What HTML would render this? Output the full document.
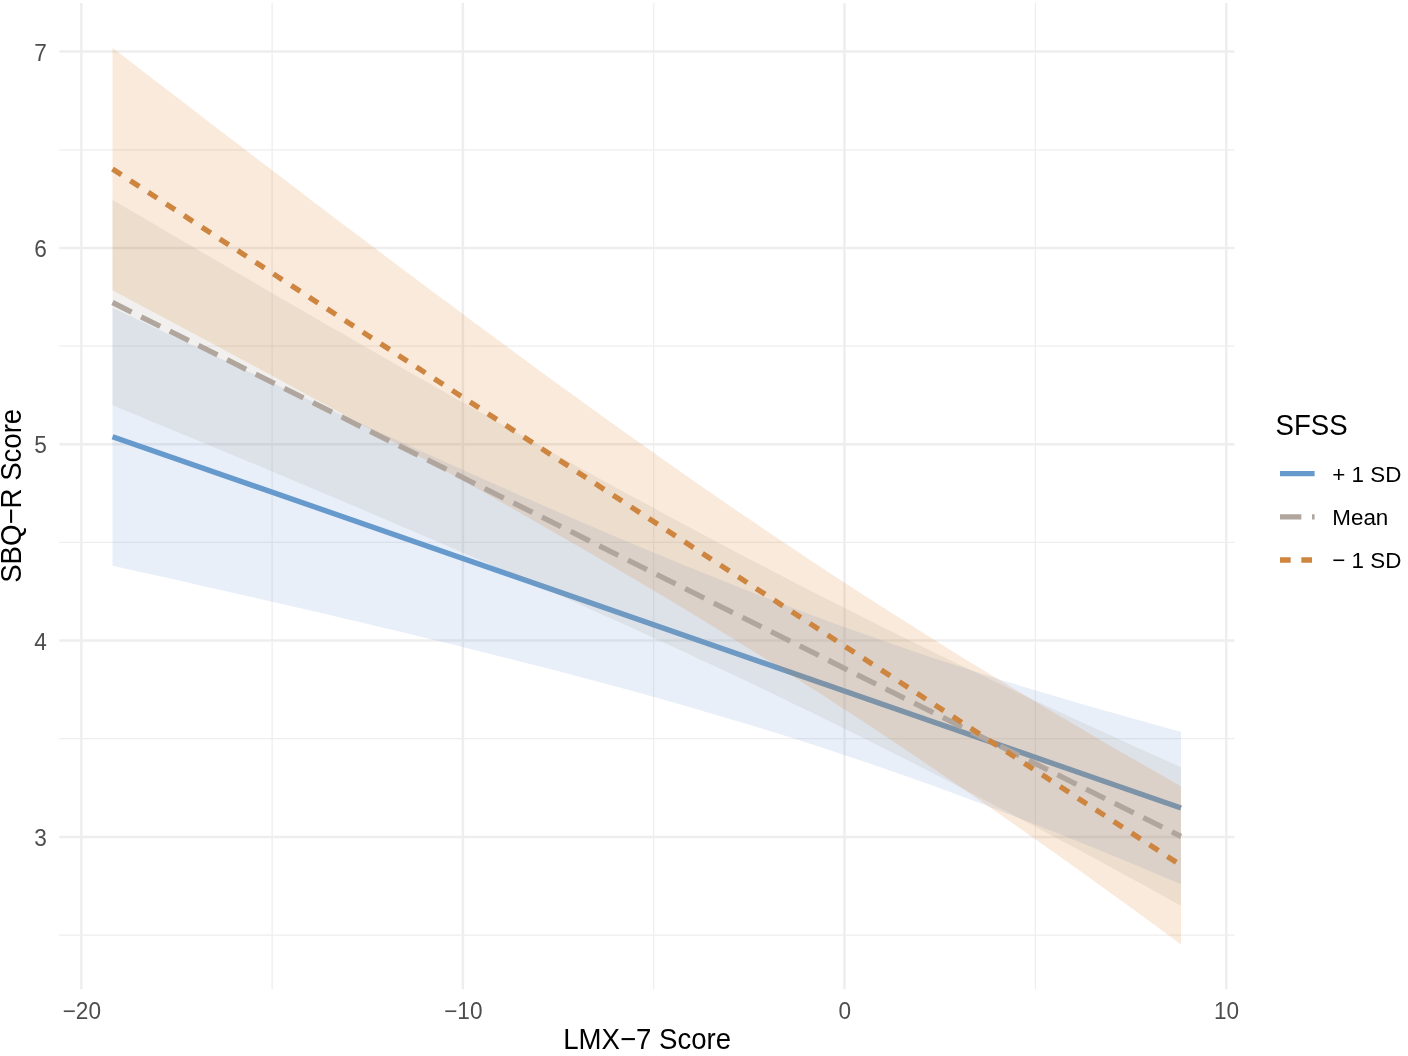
<!DOCTYPE html>
<html lang="en"><head><meta charset="utf-8"><title>SBQ-R Score by LMX-7 Score and SFSS</title>
<style>html,body{margin:0;padding:0;background:#fff;}body{width:1408px;height:1056px;overflow:hidden;}svg{display:block;}.t{font-family:"Liberation Sans",sans-serif;}</style></head>
<body>
<svg width="1408" height="1056" viewBox="0 0 1408 1056">
<rect width="1408" height="1056" fill="#ffffff"/>
<g stroke="#EEEEEE" fill="none">
<line x1="59.3" x2="1234.4" y1="149.8" y2="149.8" stroke-width="1.25"/>
<line x1="59.3" x2="1234.4" y1="346.1" y2="346.1" stroke-width="1.25"/>
<line x1="59.3" x2="1234.4" y1="542.4" y2="542.4" stroke-width="1.25"/>
<line x1="59.3" x2="1234.4" y1="738.7" y2="738.7" stroke-width="1.25"/>
<line x1="59.3" x2="1234.4" y1="935.1" y2="935.1" stroke-width="1.25"/>
<line x1="272.1" x2="272.1" y1="3.0" y2="989.2" stroke-width="1.25"/>
<line x1="653.7" x2="653.7" y1="3.0" y2="989.2" stroke-width="1.25"/>
<line x1="1035.4" x2="1035.4" y1="3.0" y2="989.2" stroke-width="1.25"/>
<line x1="59.3" x2="1234.4" y1="51.6" y2="51.6" stroke-width="2.50"/>
<line x1="59.3" x2="1234.4" y1="247.9" y2="247.9" stroke-width="2.50"/>
<line x1="59.3" x2="1234.4" y1="444.3" y2="444.3" stroke-width="2.50"/>
<line x1="59.3" x2="1234.4" y1="640.6" y2="640.6" stroke-width="2.50"/>
<line x1="59.3" x2="1234.4" y1="836.9" y2="836.9" stroke-width="2.50"/>
<line x1="81.4" x2="81.4" y1="3.0" y2="989.2" stroke-width="2.50"/>
<line x1="462.9" x2="462.9" y1="3.0" y2="989.2" stroke-width="2.50"/>
<line x1="844.5" x2="844.5" y1="3.0" y2="989.2" stroke-width="2.50"/>
<line x1="1226.2" x2="1226.2" y1="3.0" y2="989.2" stroke-width="2.50"/>
</g>
<path d="M112.5 307.7 L130.3 316.1 L148.1 324.5 L165.9 332.9 L183.7 341.3 L201.5 349.6 L219.3 358.0 L237.2 366.3 L255.0 374.6 L272.8 382.9 L290.6 391.2 L308.4 399.4 L326.2 407.7 L344.0 415.9 L361.8 424.0 L379.6 432.2 L397.4 440.3 L415.2 448.4 L433.1 456.5 L450.9 464.5 L468.7 472.5 L486.5 480.4 L504.3 488.3 L522.1 496.2 L539.9 504.0 L557.7 511.7 L575.5 519.4 L593.3 527.1 L611.1 534.7 L628.9 542.2 L646.8 549.7 L664.6 557.1 L682.4 564.4 L700.2 571.6 L718.0 578.8 L735.8 585.9 L753.6 592.9 L771.4 599.8 L789.2 606.6 L807.0 613.3 L824.8 619.9 L842.6 626.4 L860.5 632.8 L878.3 639.1 L896.1 645.3 L913.9 651.4 L931.7 657.4 L949.5 663.3 L967.3 669.1 L985.1 674.8 L1002.9 680.4 L1020.7 685.9 L1038.5 691.3 L1056.3 696.6 L1074.2 701.8 L1092.0 707.0 L1109.8 712.1 L1127.6 717.1 L1145.4 722.0 L1163.2 726.9 L1181.0 731.7 L1181.0 884.3 L1163.2 876.8 L1145.4 869.3 L1127.6 861.8 L1109.8 854.4 L1092.0 847.1 L1074.2 839.9 L1056.3 832.8 L1038.5 825.7 L1020.7 818.7 L1002.9 811.9 L985.1 805.1 L967.3 798.4 L949.5 791.8 L931.7 785.3 L913.9 778.9 L896.1 772.7 L878.3 766.5 L860.5 760.4 L842.6 754.4 L824.8 748.6 L807.0 742.8 L789.2 737.1 L771.4 731.6 L753.6 726.1 L735.8 720.7 L718.0 715.4 L700.2 710.2 L682.4 705.1 L664.6 700.0 L646.8 695.0 L628.9 690.1 L611.1 685.3 L593.3 680.5 L575.5 675.7 L557.7 671.1 L539.9 666.5 L522.1 661.9 L504.3 657.4 L486.5 652.9 L468.7 648.5 L450.9 644.1 L433.1 639.7 L415.2 635.4 L397.4 631.1 L379.6 626.9 L361.8 622.6 L344.0 618.4 L326.2 614.3 L308.4 610.1 L290.6 606.0 L272.8 601.9 L255.0 597.8 L237.2 593.7 L219.3 589.7 L201.5 585.7 L183.7 581.6 L165.9 577.6 L148.1 573.7 L130.3 569.7 L112.5 565.7Z" fill="rgb(102,148,215)" fill-opacity="0.15" stroke="none"/>
<line x1="112.5" y1="436.7" x2="1181.0" y2="808.0" stroke="#6699CC" stroke-width="5.33"/>
<path d="M112.5 199.7 L130.3 210.2 L148.1 220.6 L165.9 231.1 L183.7 241.5 L201.5 251.9 L219.3 262.3 L237.2 272.7 L255.0 283.1 L272.8 293.4 L290.6 303.8 L308.4 314.1 L326.2 324.4 L344.0 334.6 L361.8 344.9 L379.6 355.1 L397.4 365.3 L415.2 375.4 L433.1 385.6 L450.9 395.7 L468.7 405.7 L486.5 415.8 L504.3 425.8 L522.1 435.7 L539.9 445.7 L557.7 455.6 L575.5 465.4 L593.3 475.2 L611.1 485.0 L628.9 494.7 L646.8 504.3 L664.6 513.9 L682.4 523.5 L700.2 533.0 L718.0 542.5 L735.8 551.9 L753.6 561.2 L771.4 570.5 L789.2 579.7 L807.0 588.9 L824.8 598.0 L842.6 607.0 L860.5 616.0 L878.3 624.9 L896.1 633.7 L913.9 642.5 L931.7 651.2 L949.5 659.9 L967.3 668.5 L985.1 677.0 L1002.9 685.5 L1020.7 693.9 L1038.5 702.2 L1056.3 710.5 L1074.2 718.8 L1092.0 727.0 L1109.8 735.1 L1127.6 743.2 L1145.4 751.3 L1163.2 759.3 L1181.0 767.3 L1181.0 905.7 L1163.2 895.9 L1145.4 886.1 L1127.6 876.4 L1109.8 866.7 L1092.0 857.0 L1074.2 847.4 L1056.3 837.9 L1038.5 828.4 L1020.7 818.9 L1002.9 809.5 L985.1 800.2 L967.3 790.9 L949.5 781.7 L931.7 772.6 L913.9 763.5 L896.1 754.5 L878.3 745.5 L860.5 736.6 L842.6 727.8 L824.8 719.0 L807.0 710.3 L789.2 701.7 L771.4 693.1 L753.6 684.6 L735.8 676.1 L718.0 667.7 L700.2 659.4 L682.4 651.1 L664.6 642.9 L646.8 634.7 L628.9 626.5 L611.1 618.4 L593.3 610.4 L575.5 602.4 L557.7 594.4 L539.9 586.5 L522.1 578.7 L504.3 570.8 L486.5 563.0 L468.7 555.3 L450.9 547.5 L433.1 539.8 L415.2 532.2 L397.4 524.5 L379.6 516.9 L361.8 509.3 L344.0 501.8 L326.2 494.2 L308.4 486.7 L290.6 479.2 L272.8 471.8 L255.0 464.3 L237.2 456.9 L219.3 449.5 L201.5 442.1 L183.7 434.7 L165.9 427.3 L148.1 420.0 L130.3 412.6 L112.5 405.3Z" fill="rgb(162,155,142)" fill-opacity="0.15" stroke="none"/>
<path d="M112.5 47.7 L130.3 61.5 L148.1 75.2 L165.9 88.9 L183.7 102.6 L201.5 116.3 L219.3 129.9 L237.2 143.5 L255.0 157.2 L272.8 170.8 L290.6 184.3 L308.4 197.9 L326.2 211.4 L344.0 224.9 L361.8 238.3 L379.6 251.8 L397.4 265.2 L415.2 278.5 L433.1 291.9 L450.9 305.1 L468.7 318.4 L486.5 331.6 L504.3 344.7 L522.1 357.8 L539.9 370.9 L557.7 383.9 L575.5 396.8 L593.3 409.7 L611.1 422.5 L628.9 435.2 L646.8 447.8 L664.6 460.4 L682.4 472.9 L700.2 485.4 L718.0 497.7 L735.8 509.9 L753.6 522.1 L771.4 534.2 L789.2 546.1 L807.0 558.0 L824.8 569.8 L842.6 581.4 L860.5 593.0 L878.3 604.5 L896.1 615.8 L913.9 627.1 L931.7 638.3 L949.5 649.4 L967.3 660.4 L985.1 671.3 L1002.9 682.1 L1020.7 692.8 L1038.5 703.5 L1056.3 714.1 L1074.2 724.6 L1092.0 735.0 L1109.8 745.4 L1127.6 755.7 L1145.4 765.9 L1163.2 776.1 L1181.0 786.2 L1181.0 944.4 L1163.2 931.3 L1145.4 918.3 L1127.6 905.3 L1109.8 892.4 L1092.0 879.6 L1074.2 866.8 L1056.3 854.1 L1038.5 841.4 L1020.7 828.9 L1002.9 816.4 L985.1 804.0 L967.3 791.7 L949.5 779.5 L931.7 767.4 L913.9 755.3 L896.1 743.4 L878.3 731.6 L860.5 719.8 L842.6 708.2 L824.8 696.6 L807.0 685.2 L789.2 673.9 L771.4 662.6 L753.6 651.5 L735.8 640.4 L718.0 629.5 L700.2 618.6 L682.4 607.8 L664.6 597.1 L646.8 586.5 L628.9 575.9 L611.1 565.4 L593.3 555.0 L575.5 544.7 L557.7 534.4 L539.9 524.2 L522.1 514.0 L504.3 503.9 L486.5 493.8 L468.7 483.8 L450.9 473.9 L433.1 463.9 L415.2 454.0 L397.4 444.2 L379.6 434.4 L361.8 424.6 L344.0 414.8 L326.2 405.1 L308.4 395.4 L290.6 385.8 L272.8 376.1 L255.0 366.5 L237.2 356.9 L219.3 347.3 L201.5 337.8 L183.7 328.3 L165.9 318.7 L148.1 309.2 L130.3 299.8 L112.5 290.3Z" fill="rgb(215,115,22)" fill-opacity="0.15" stroke="none"/>
<line x1="112.5" y1="302.5" x2="1181.0" y2="836.5" stroke="#B0A69E" stroke-width="5.33" stroke-dasharray="21.34 10.67"/>
<line x1="112.5" y1="169.0" x2="1181.0" y2="865.3" stroke="#CD853F" stroke-width="5.33" stroke-dasharray="10.67 10.67"/>
<text transform="translate(46.9 60.7) scale(1.060 1.090)" class="t" font-size="21.33" fill="#4D4D4D" text-anchor="end">7</text>
<text transform="translate(46.9 257.0) scale(1.060 1.090)" class="t" font-size="21.33" fill="#4D4D4D" text-anchor="end">6</text>
<text transform="translate(46.9 453.4) scale(1.060 1.090)" class="t" font-size="21.33" fill="#4D4D4D" text-anchor="end">5</text>
<text transform="translate(46.9 649.7) scale(1.060 1.090)" class="t" font-size="21.33" fill="#4D4D4D" text-anchor="end">4</text>
<text transform="translate(46.9 846.0) scale(1.060 1.090)" class="t" font-size="21.33" fill="#4D4D4D" text-anchor="end">3</text>
<text transform="translate(81.8 1019.3) scale(1.060 1.090)" class="t" font-size="21.33" fill="#4D4D4D" text-anchor="middle">−20</text>
<text transform="translate(463.3 1019.3) scale(1.060 1.090)" class="t" font-size="21.33" fill="#4D4D4D" text-anchor="middle">−10</text>
<text transform="translate(844.9 1019.3) scale(1.060 1.090)" class="t" font-size="21.33" fill="#4D4D4D" text-anchor="middle">0</text>
<text transform="translate(1226.6 1019.3) scale(1.060 1.090)" class="t" font-size="21.33" fill="#4D4D4D" text-anchor="middle">10</text>
<text transform="translate(647.2 1049.3) scale(1.035 1.100)" class="t" font-size="26.67" fill="#000000" text-anchor="middle">LMX−7 Score</text>
<text transform="translate(21.2 495.8) rotate(-90) scale(1.035 1.100)" class="t" font-size="26.67" fill="#000000" text-anchor="middle">SBQ−R Score</text>
<text transform="translate(1275.5 434.7) scale(1.035 1.100)" class="t" font-size="26.67" fill="#000000" text-anchor="start">SFSS</text>
<line x1="1280.0" y1="473.6" x2="1314.6" y2="473.6" stroke="#6699CC" stroke-width="5.33"/>
<line x1="1280.0" y1="516.8" x2="1314.6" y2="516.8" stroke="#B0A69E" stroke-width="5.33" stroke-dasharray="21.34 10.67"/>
<line x1="1280.0" y1="560.0" x2="1314.6" y2="560.0" stroke="#CD853F" stroke-width="5.33" stroke-dasharray="10.67 10.67"/>
<text transform="translate(1332.3 481.8) scale(1.050 1.060)" class="t" font-size="21.33" fill="#000000" text-anchor="start">+ 1 SD</text>
<text transform="translate(1332.3 524.8) scale(1.050 1.060)" class="t" font-size="21.33" fill="#000000" text-anchor="start">Mean</text>
<text transform="translate(1332.3 567.7) scale(1.050 1.060)" class="t" font-size="21.33" fill="#000000" text-anchor="start">− 1 SD</text>
</svg>
</body></html>
